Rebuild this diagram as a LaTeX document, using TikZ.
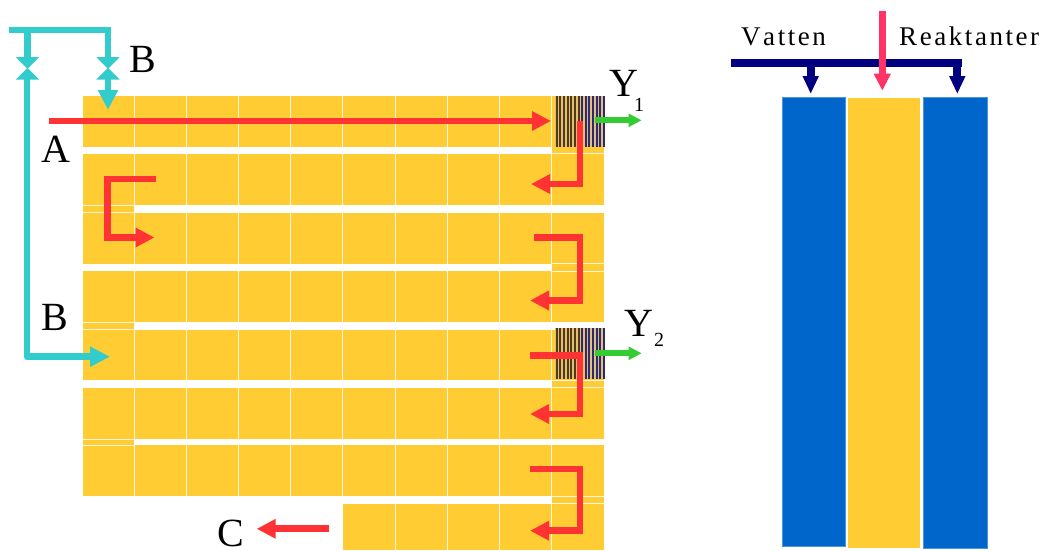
\documentclass[tikz,border=0pt]{standalone}
\usepackage{fontspec}
\setmainfont{Liberation Serif}
\newfontfamily\spaced[LetterSpace=9.5,Kerning=Off]{Liberation Serif}
\usetikzlibrary{arrows.meta}
\definecolor{amber}{HTML}{FFCC33}
\definecolor{teal1}{HTML}{33CCCC}
\definecolor{red1}{HTML}{FF3333}
\definecolor{green1}{HTML}{33CC33}
\definecolor{navy1}{HTML}{000080}
\definecolor{blue1}{HTML}{0066CC}
\definecolor{pink1}{HTML}{FF3366}
\definecolor{tan1}{HTML}{E6C070}
\definecolor{brown1}{HTML}{503A1C}
\definecolor{navy2}{HTML}{2A2A78}
\tikzset{
  cell/.style={fill=amber,draw=none},
  sep/.style={draw=white!85!amber,line width=1pt},
  redflow/.style={draw=red1,line width=6.9pt,line join=miter},
  redtip/.style={redflow,-{Triangle[length=19pt,width=18.5pt]}},
  tealflow/.style={draw=teal1,line width=6.5pt,line join=round},
  tealtip/.style={tealflow,-{Triangle[length=20pt,width=19pt]}},
  greenflow/.style={draw=green1,line width=6pt,-{Triangle[length=13pt,width=12.5pt]}},
  navyflow/.style={draw=navy1,line width=8pt},
  navytip/.style={navyflow,-{Triangle[length=18pt,width=15pt]}},
  pinktip/.style={draw=pink1,line width=7.5pt,-{Triangle[length=17pt,width=16pt]}},
  valve/.style={fill=teal1,draw=none},
  big/.style={inner sep=0pt,font=\fontsize{40}{40}\selectfont},
  sub/.style={inner sep=0pt,font=\fontsize{20}{20}\selectfont},
  wordlabel/.style={inner sep=0pt,font=\fontsize{27}{27}\spaced},
  panelblue/.style={fill=blue1,draw=blue1!70!white,line width=0.7pt},
  panelamber/.style={fill=amber,draw=none}
}
\newcommand{\valvepair}[1]{%
  \fill[valve] (#1-11.7,57) -- (#1+11.7,57) -- (#1,69) -- cycle;
  \fill[valve] (#1-11.7,79.5) -- (#1+11.7,79.5) -- (#1,68) -- cycle;}
\newcommand{\stripes}[2]{%
  \fill[tan1] (554.5,#1) rectangle (603.5,#2);
  \foreach \k in {0,...,6}{\fill[brown1] ({555.6+3.65*\k},#1) rectangle ({557.6+3.65*\k},#2);}
  \foreach \k in {7,...,13}{\fill[navy2] ({555.6+3.65*\k},#1) rectangle ({557.4+3.65*\k},#2);}}
\begin{document}
\begin{tikzpicture}[x=1pt,y=-1pt]
\useasboundingbox (0,0) rectangle (1041,550);
% yellow rows
\fill[cell] (82.5,96) rectangle (604,147);
\fill[cell] (82.5,154.3) rectangle (604,205);
\fill[cell] (82.5,212.6) rectangle (604,263.5);
\fill[cell] (82.5,271) rectangle (604,322);
\fill[cell] (82.5,329.5) rectangle (604,380);
\fill[cell] (82.5,387.7) rectangle (604,439);
\fill[cell] (82.5,445.3) rectangle (604,496.3);
\fill[cell] (343,503.7) rectangle (604,550);
% joins between rows
\fill[cell] (552,147) rectangle (604,154.3);
\fill[cell] (82.5,205) rectangle (134,212.6);
\fill[cell] (552,263.5) rectangle (604,271);
\fill[cell] (82.5,322) rectangle (134,329.5);
\fill[cell] (552,380) rectangle (604,387.7);
\fill[cell] (82.5,439) rectangle (134,445.3);
\fill[cell] (552,496.3) rectangle (604,503.7);
% column separators
\foreach \x in {134,186.5,238.5,290.5,342.5,395,447,499,551.5}{
  \draw[sep] (\x,96) -- (\x,147);
  \draw[sep] (\x,154.3) -- (\x,205);
  \draw[sep] (\x,212.6) -- (\x,263.5);
  \draw[sep] (\x,271) -- (\x,322);
  \draw[sep] (\x,329.5) -- (\x,380);
  \draw[sep] (\x,387.7) -- (\x,439);
  \draw[sep] (\x,445.3) -- (\x,496.3);
}
\foreach \x in {395,447,499,551.5}{\draw[sep] (\x,503.7) -- (\x,550);}
% row separators at joins
\foreach \y in {205,212.3,322,329.2,439,445.3}{\draw[sep] (82.5,\y) -- (134,\y);}
\foreach \y in {153.6,263.6,271,380,387.5,496.4,503.7}{\draw[sep] (552,\y) -- (604,\y);}
% catalytic stripes
\stripes{96}{147}
\stripes{328}{379}
% teal flows
\draw[tealflow] (9.3,30) -- (111,30);
\draw[tealflow] (27.5,30) -- (27.5,57);
\draw[tealflow] (108,30) -- (108,57);
\valvepair{27.5}
\valvepair{108}
\draw[tealtip] (108,79) -- (108,110);
\draw[tealtip] (27,79) -- (27,356.7) -- (110,356.7);
% red flows
\coordinate (a1) at (49,121); \coordinate (a2) at (551,121);
\draw[redtip] (a1) -- (a2);
\draw[redtip] (580,121) -- (580,184) -- (531,184);
\draw[redtip] (156,179) -- (107.3,179) -- (107.3,237.5) -- (154.5,237.5);
\draw[redtip] (534,237.5) -- (580,237.5) -- (580,300.5) -- (530,300.5);
\draw[redtip] (530,355.7) -- (580,355.7) -- (580,414) -- (530,414);
\draw[redtip] (530,469) -- (580,469) -- (580,530.7) -- (530,530.7);
\draw[redtip] (329,528.8) -- (256.7,528.8);
% green flows
\draw[greenflow] (595,120.3) -- (641.7,120.3);
\draw[greenflow] (595,353.3) -- (641.7,353.3);
% labels
\node[big,anchor=base] (labB1) at (142.5,72.5) {B};
\node[big,anchor=base] (labA) at (55.7,162) {A};
\node[big,anchor=base] (labB2) at (54.5,330) {B};
\node[big,anchor=base] (labC) at (230.5,546.3) {C};
\node[big,anchor=base] (labY1) at (623.5,96.5) {Y};
\node[sub,anchor=base] (sub1) at (639,111) {1};
\node[big,anchor=base] (labY2) at (639,336) {Y};
\node[sub,anchor=base] (sub2) at (659,346) {2};
% right panel
\fill[panelamber] (847.5,97.5) rectangle (920,548);
\draw[panelblue] (782.5,97) rectangle (845.5,546);
\draw[panelblue] (923.3,97.5) rectangle (987,548);
\node[wordlabel,anchor=base west] (vat) at (741,45) {Vatten};
\node[wordlabel,anchor=base west] (rea) at (899,45) {Reaktanter};
\draw[navyflow] (731,63.3) -- (962.3,63.3);
\draw[navytip] (810.7,60) -- (810.7,94);
\draw[navytip] (957.3,60) -- (957.3,94);
\draw[pinktip] (882.3,10.7) -- (882.3,90.7);
\end{tikzpicture}
\end{document}
